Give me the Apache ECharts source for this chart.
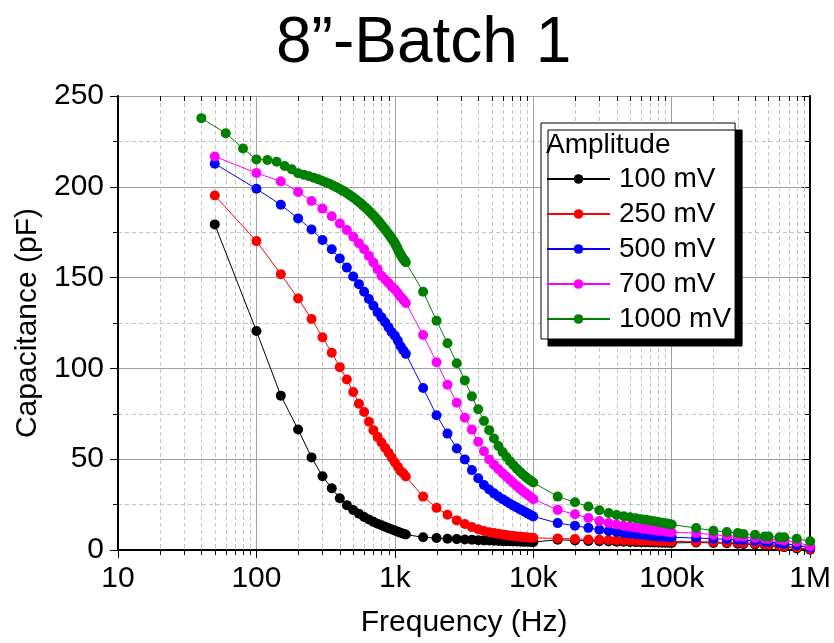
<!DOCTYPE html>
<html>
<head>
<meta charset="utf-8">
<script src="https://cdn.jsdelivr.net/npm/echarts@6/dist/echarts.min.js"></script>
<style>
  html, body { margin: 0; padding: 0; background: #ffffff; }
  #chart { width: 834px; height: 643px; }
</style>
</head>
<body>
<div id="chart"></div>
<script>
// Frequency sweeps (Hz)
const freqStd = [
  50, 100, 150, 200, 250, 300, 350, 400, 450, 500, 550, 600, 650, 700, 750, 800,
  850, 900, 950, 1000, 1050, 1100, 1150, 1200,
  1600, 2000, 2400, 2800, 3200, 3600, 4000, 4400, 4800, 5200, 5600, 6000, 6400,
  6800, 7200, 7600, 8000, 8400, 8800, 9200, 9600, 10000,
  15000, 20000, 25000, 30000, 35000, 40000, 45000, 50000, 55000, 60000, 65000,
  70000, 75000, 80000, 85000, 90000, 95000, 100000,
  150000, 200000, 250000, 300000, 330000, 400000, 470000, 500000, 600000, 650000,
  800000, 1000000
];
const freqFine = [
  40, 60, 80, 100, 120, 140, 160, 180, 200, 220, 240, 260, 280, 300, 320, 340,
  360, 380, 400, 420, 440, 460, 480, 500, 520, 540, 560, 580, 600, 620, 640, 660,
  680, 700, 720, 740, 760, 780, 800, 820, 840, 860, 880, 900, 920, 940, 960, 980,
  1000, 1020, 1040, 1060, 1080, 1100, 1120, 1140, 1160, 1180, 1200,
  1600, 2000, 2400, 2800, 3200, 3600, 4000, 4400, 4800, 5200, 5600, 6000, 6400,
  6800, 7200, 7600, 8000, 8400, 8800, 9200, 9600, 10000,
  15000, 20000, 25000, 30000, 35000, 40000, 45000, 50000, 55000, 60000, 65000,
  70000, 75000, 80000, 85000, 90000, 95000, 100000,
  150000, 200000, 250000, 300000, 330000, 400000, 470000, 500000, 600000, 650000,
  800000, 1000000
];

// Capacitance (pF) for each drive amplitude
const cap100mV = [
  179.3, 120.6, 85.0, 66.4, 51.0, 40.6, 34.0, 28.5, 24.7, 22.0, 20.0, 18.2, 16.8,
  15.5, 14.5, 13.6, 12.8, 12.0, 11.3, 10.7, 10.1, 9.5, 9.0, 8.5,
  7.0, 6.6, 6.2, 6.0, 5.8, 5.6, 5.4, 5.3, 5.2, 5.1, 5.0, 4.9, 4.85, 4.8, 4.75,
  4.7, 4.65, 4.6, 4.55, 4.5, 4.45, 4.4,
  5.6, 5.3, 5.0, 4.8, 4.7, 4.6, 4.5, 4.4, 4.35, 4.3, 4.25, 4.2, 4.15, 4.1, 4.05,
  4.0, 4.0, 3.9,
  4.1, 3.9, 3.7, 3.5, 3.3, 3.0, 2.6, 2.4, 1.9, 1.6, 0.9, 0.2
];
const cap250mV = [
  195.2, 170.1, 151.9, 138.5, 127.2, 117.2, 108.6, 100.7, 93.9, 87.0, 80.6, 76.0,
  70.6, 66.0, 62.3, 59.2, 56.3, 53.6, 50.8, 48.2, 45.9, 43.5, 42.2, 40.5,
  29.4, 23.2, 19.4, 16.3, 14.3, 12.6, 11.4, 10.5, 9.8, 9.3, 8.9, 8.5, 8.2, 7.9,
  7.7, 7.5, 7.3, 7.1, 7.0, 6.9, 6.8, 6.7,
  6.4, 6.1, 5.8, 5.6, 5.5, 5.4, 5.3, 5.2, 5.15, 5.1, 5.05, 5.0, 4.95, 4.9, 4.85,
  4.8, 4.8, 4.7,
  4.6, 4.4, 4.2, 4.0, 3.8, 3.5, 3.1, 2.9, 2.4, 2.1, 1.4, 0.5
];
const cap500mV = [
  212.7, 198.9, 190.1, 182.6, 176.5, 170.7, 165.6, 160.5, 155.5, 150.6, 146.4,
  142.2, 138.2, 134.5, 130.9, 128.1, 125.4, 122.6, 119.9, 118.0, 115.3, 112.2,
  110.0, 108.0,
  89.2, 74.2, 64.1, 55.9, 49.9, 44.0, 39.5, 35.8, 33.3, 31.2, 29.5, 28.0, 26.7,
  25.5, 24.4, 23.4, 22.5, 21.6, 20.8, 20.0, 19.2, 18.5,
  14.8, 13.4, 12.2, 11.2, 10.5, 9.9, 9.4, 9.0, 8.7, 8.4, 8.1, 7.9, 7.7, 7.5, 7.4,
  7.2, 7.1, 7.0,
  6.6, 6.2, 5.9, 5.6, 5.4, 5.0, 4.6, 4.4, 3.8, 3.5, 2.6, 1.2
];
const cap700mV = [
  216.7, 207.6, 203.0, 197.2, 192.2, 188.0, 183.8, 179.8, 176.2, 172.5, 168.9,
  165.6, 161.9, 158.3, 154.6, 151.0, 149.0, 147.0, 145.0, 143.5, 141.5, 139.5,
  137.8, 136.0,
  118.4, 103.4, 91.0, 81.1, 72.8, 66.3, 59.6, 54.4, 49.9, 47.0, 44.5, 42.3, 40.3,
  38.5, 36.8, 35.2, 33.8, 32.5, 31.3, 30.1, 29.0, 28.0,
  22.1, 19.7, 17.6, 16.0, 14.9, 14.0, 13.3, 12.8, 12.3, 11.9, 11.5, 11.2, 10.9,
  10.6, 10.4, 10.2, 10.0, 9.8,
  9.3, 8.4, 7.8, 7.5, 7.2, 6.6, 6.2, 6.1, 5.6, 5.3, 4.4, 2.0
];
const cap1000mV = [
  237.8, 229.5, 221.1, 215.1, 214.8, 213.8, 211.5, 209.6, 207.5, 206.6, 205.8,
  205.0, 204.1, 203.2, 202.4, 201.5, 200.6, 199.7, 198.8, 197.9, 197.0, 196.0,
  195.1, 194.1, 193.1, 192.2, 191.2, 190.2, 189.2, 188.3, 187.2, 186.3, 185.2,
  184.2, 183.2, 182.1, 181.1, 180.0, 179.0, 178.0, 177.0, 176.0, 175.0, 174.0,
  173.0, 172.0, 171.0, 170.0, 169.0, 167.6, 166.5, 165.0, 163.8, 162.7, 161.6,
  160.8, 160.0, 159.2, 158.5,
  142.2, 126.3, 113.8, 102.8, 93.4, 84.6, 77.5, 71.0, 66.0, 61.4, 57.3, 54.0,
  51.2, 48.8, 46.7, 44.8, 43.1, 41.6, 40.3, 39.1, 38.1, 37.2,
  29.4, 26.3, 24.0, 21.9, 20.4, 19.3, 18.6, 18.0, 17.5, 17.0, 16.6, 16.2, 15.8,
  15.4, 15.0, 14.7, 14.4, 14.0,
  12.1, 10.6, 9.9, 9.3, 8.8, 8.4, 7.5, 7.5, 7.0, 7.0, 6.2, 4.8
];

const seriesNames = ['100 mV', '250 mV', '500 mV', '700 mV', '1000 mV'];
const seriesColors = ['#000000', '#ff0000', '#0000ff', '#ff00ff', '#008000'];
const seriesFreqs = [freqStd, freqStd, freqStd, freqStd, freqFine];
const seriesCaps = [cap100mV, cap250mV, cap500mV, cap700mV, cap1000mV];

// Axis ticks
const xTickValues = [10, 100, 1000, 10000, 100000, 1000000];
const xTickLabels = ['10', '100', '1k', '10k', '100k', '1M'];
const xMinorValues = [
  20, 30, 40, 50, 60, 70, 80, 90,
  200, 300, 400, 500, 600, 700, 800, 900,
  2000, 3000, 4000, 5000, 6000, 7000, 8000, 9000,
  20000, 30000, 40000, 50000, 60000, 70000, 80000, 90000,
  200000, 300000, 400000, 500000, 600000, 700000, 800000, 900000
];
const yMin = 0, yMax = 250, yStep = 50;

const FONT = 'Liberation Sans, Arial, sans-serif';
const chart = echarts.init(document.getElementById('chart'), null, { renderer: 'canvas' });

const lineSeries = seriesNames.map((name, i) => ({
  type: 'line',
  name: name,
  xAxisIndex: 0,
  yAxisIndex: 0,
  data: seriesFreqs[i].map((f, k) => [f, seriesCaps[i][k]]),
  symbol: 'circle',
  symbolSize: 10,
  showSymbol: true,
  showAllSymbol: true,
  lineStyle: { color: seriesColors[i], width: 1 },
  itemStyle: { color: seriesColors[i] },
  z: 3 + i,
  silent: true
}));

// Log-decade minor grid lines with their ticks on the bottom and top frame
const minorGrid = {
  type: 'custom',
  coordinateSystem: 'cartesian2d',
  xAxisIndex: 0,
  yAxisIndex: 0,
  silent: true,
  clip: false,
  z: 1,
  encode: { x: 0, y: 1 },
  data: xMinorValues.map(f => [f, yMin]),
  renderItem: function (params, api) {
    const b = api.coord([api.value(0), yMin]);
    const t = api.coord([api.value(0), yMax]);
    const x = Math.round(b[0]) + 0.5;
    return {
      type: 'group',
      children: [
        { type: 'line', shape: { x1: x, y1: t[1], x2: x, y2: b[1] },
          style: { stroke: '#c4c4c4', lineWidth: 1, lineDash: [4, 3] } },
        { type: 'line', shape: { x1: x, y1: b[1], x2: x, y2: b[1] + 5 },
          style: { stroke: '#000', lineWidth: 1 } },
        { type: 'line', shape: { x1: x, y1: t[1], x2: x, y2: t[1] + 5 },
          style: { stroke: '#000', lineWidth: 1 } }
      ]
    };
  }
};

const option = {
  animation: false,
  backgroundColor: '#ffffff',
  title: [
    {
      text: '8\u201D-Batch 1',
      left: 271,
      top: 7,
      textStyle: { fontFamily: FONT, fontSize: 64, fontWeight: 'normal', color: '#000' }
    },
    {
      text: 'Amplitude',
      left: 541,
      top: 131,
      padding: [0, 0, 0, 5],
      z: 10,
      textStyle: { fontFamily: FONT, fontSize: 28, fontWeight: 'normal', color: '#000' }
    }
  ],
  grid: { left: 118, right: 18, top: 96, bottom: 91, containLabel: false },
  legend: {
    orient: 'vertical',
    left: 541,
    top: 123,
    padding: [42, 4, 6, 5],
    itemWidth: 63,
    itemHeight: 12,
    itemGap: 7,
    backgroundColor: '#ffffff',
    borderColor: '#000000',
    borderWidth: 1,
    shadowColor: '#000000',
    shadowBlur: 0,
    shadowOffsetX: 7,
    shadowOffsetY: 7,
    textStyle: { fontFamily: FONT, fontSize: 28, color: '#000', padding: [0, 0, 0, 4] },
    data: seriesNames,
    selectedMode: false
  },
  xAxis: [
    {
      type: 'log',
      logBase: 10,
      min: xTickValues[0],
      max: xTickValues[xTickValues.length - 1],
      splitNumber: 5,
      position: 'bottom',
      name: 'Frequency (Hz)',
      nameLocation: 'middle',
      nameGap: 58,
      nameTextStyle: { fontFamily: FONT, fontSize: 30, color: '#000' },
      axisLine: { show: true, lineStyle: { color: '#000', width: 2 } },
      axisTick: { show: true, inside: false, length: 8, lineStyle: { color: '#000', width: 1 } },
      axisLabel: {
        fontFamily: FONT, fontSize: 30, color: '#000', margin: 14,
        formatter: function (v) {
          const idx = xTickValues.findIndex(t => Math.abs(Math.log10(t) - Math.log10(v)) < 1e-6);
          return idx >= 0 ? xTickLabels[idx] : '';
        }
      },
      splitLine: { show: true, lineStyle: { color: '#a0a0a0', width: 1 } }
    },
    {
      type: 'log',
      logBase: 10,
      min: xTickValues[0],
      max: xTickValues[xTickValues.length - 1],
      splitNumber: 5,
      position: 'top',
      axisLine: { show: true, lineStyle: { color: '#000', width: 2 } },
      axisTick: { show: true, inside: true, length: 8, lineStyle: { color: '#000', width: 1 } },
      axisLabel: { show: false },
      splitLine: { show: false }
    }
  ],
  yAxis: [
    {
      type: 'value',
      min: yMin,
      max: yMax,
      interval: yStep,
      position: 'left',
      name: 'Capacitance (pF)',
      nameLocation: 'middle',
      nameGap: 66,
      nameTextStyle: { fontFamily: FONT, fontSize: 30, color: '#000' },
      axisLine: { show: true, lineStyle: { color: '#000', width: 2 } },
      axisTick: { show: true, inside: false, length: 8, lineStyle: { color: '#000', width: 1 } },
      minorTick: { show: true, splitNumber: 2, length: 5, lineStyle: { color: '#000', width: 1 } },
      axisLabel: { fontFamily: FONT, fontSize: 30, color: '#000', margin: 14 },
      splitLine: { show: true, lineStyle: { color: '#a0a0a0', width: 1 } },
      minorSplitLine: { show: true, lineStyle: { color: '#c4c4c4', width: 1, type: [4, 3] } }
    },
    {
      type: 'value',
      min: yMin,
      max: yMax,
      interval: yStep,
      position: 'right',
      axisLine: { show: true, lineStyle: { color: '#000', width: 2 } },
      axisTick: { show: true, inside: true, length: 8, lineStyle: { color: '#000', width: 1 } },
      minorTick: { show: true, splitNumber: 2, length: 5, lineStyle: { color: '#000', width: 1 } },
      axisLabel: { show: false },
      splitLine: { show: false }
    }
  ],
  series: [minorGrid].concat(lineSeries)
};

chart.setOption(option);
</script>
</body>
</html>
